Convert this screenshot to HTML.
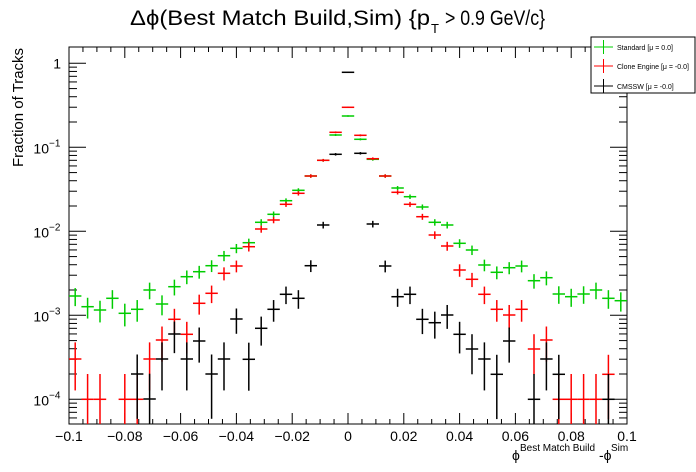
<!DOCTYPE html>
<html><head><meta charset="utf-8"><style>
body{margin:0;background:#fff;}
svg{display:block;font-family:"Liberation Sans",sans-serif;}
</style></head><body>
<svg id="s" width="696" height="472" xmlns="http://www.w3.org/2000/svg">
<rect width="696" height="472" fill="#fff"/>
<text x="130" y="25" font-size="21" textLength="300" lengthAdjust="spacingAndGlyphs">Δϕ(Best Match Build,Sim) {p</text>
<text x="431" y="33" font-size="13">T</text>
<text x="445" y="25" font-size="21" textLength="100" lengthAdjust="spacingAndGlyphs">&gt; 0.9 GeV/c}</text>
<text transform="translate(23,167) rotate(-90)" font-size="15" textLength="119" lengthAdjust="spacingAndGlyphs">Fraction of Tracks</text>
<g id="g"></g>
<rect x="591" y="37" width="104" height="56" fill="#fff" stroke="#000" stroke-width="1"/>
<line x1="594" y1="47" x2="613" y2="47" stroke="#00cc00"/><line x1="603.5" y1="40" x2="603.5" y2="54" stroke="#00cc00"/>
<text x="617" y="50" font-size="7">Standard  [μ = 0.0]</text>
<line x1="594" y1="66" x2="613" y2="66" stroke="#ff0000"/><line x1="603.5" y1="59" x2="603.5" y2="73" stroke="#ff0000"/>
<text x="617" y="69" font-size="7">Clone Engine  [μ = -0.0]</text>
<line x1="594" y1="86" x2="613" y2="86" stroke="#000"/><line x1="603.5" y1="79" x2="603.5" y2="93" stroke="#000"/>
<text x="617" y="89" font-size="7">CMSSW  [μ = -0.0]</text>
<text x="512" y="460" font-size="14">ϕ</text>
<text x="520" y="451" font-size="10">Best Match Build</text>
<text x="599" y="460" font-size="14">-ϕ</text>
<text x="611" y="451" font-size="10">Sim</text>
</svg>
<script>
const g=document.getElementById('g');
const L=69,R=627,T=47,B=424,y0=63.3,dec=84,bw=(R-L)/45;
const NS='http://www.w3.org/2000/svg';
function el(t,a){const e=document.createElementNS(NS,t);for(const k in a)e.setAttribute(k,a[k]);g.appendChild(e);return e;}
function yv(v){return y0-dec*Math.log10(v);}
function ln(x1,y1,x2,y2,c,w){el('line',{x1,y1,x2,y2,stroke:c||'#000','stroke-width':w||1});}
// frame
el('rect',{x:L,y:T,width:R-L,height:B-T,fill:'none',stroke:'#000','stroke-width':1});
// x ticks
for(let i=0;i<=40;i++){const x=L+(R-L)*i/40;const big=i%4==0;const h=big?11:5;
 ln(x,B,x,B-h);ln(x,T,x,T+h);}
const xl=['\u22120.1','\u22120.08','\u22120.06','\u22120.04','\u22120.02','0','0.02','0.04','0.06','0.08','0.1'];
xl.forEach((t,i)=>{const e=el('text',{x:L+(R-L)*i/10,y:441,'font-size':14,'text-anchor':'middle'});e.textContent=t;});
// y ticks
for(let d=-5;d<=0;d++){for(let m=1;m<10;m++){const v=m*Math.pow(10,d);const y=yv(v);if(y<T||y>B)continue;const h=m==1?17:8;
 ln(L,y,L+h,y);ln(R,y,R-h,y);}}
const yl=[[0,'1'],[-1,'10'],[-2,'10'],[-3,'10'],[-4,'10']];
yl.forEach(([d,t])=>{const y=yv(Math.pow(10,d));
 if(d==0){const e=el('text',{x:61,y:y+5,'font-size':14,'text-anchor':'end'});e.textContent='1';}
 else{const e=el('text',{x:49,y:y+6,'font-size':14,'text-anchor':'end'});e.textContent='10';
 const s=el('text',{x:49,y:y-1,'font-size':10});s.textContent='\u2212'+(-d);}});
// data (pixel y), null = none
const green=[296,306.7,310,298.3,313.3,309.3,290,304,286.7,276.7,271.7,265.7,255.7,248.3,242.7,222.3,214.3,200.7,190.3,176,160.3,135,116,139.3,159.3,176,188,196.7,207,222.3,225,243.3,250,265,272.3,267.7,266,280.7,277.7,294,296.7,294,290,298.3,300.7];
const red=[359,399.3,399.3,null,399.3,399.3,359,340,319.3,334.3,303.3,293.3,273.3,266,246.7,229,220,204.3,193.3,176,160.3,132.3,107.3,135.3,158.7,176,192.3,204.3,216.7,235,246,270,279.3,294.3,309.3,315,309.3,349,340,399.3,399.3,399.3,399.3,374.3,null];
const black=[null,null,null,null,null,374,399,359,334,359,341,374,359,319,359.3,328.3,309.3,294.3,298.3,265.7,225,154.3,72.3,153.3,224,266,296.7,294.3,319.3,322.7,315,334.3,349,359,374.3,341,null,399.3,359,374.3,null,null,null,399.3,null];
function draw(d,c){d.forEach((py,i)=>{if(py==null)return;const v=Math.pow(10,(y0-py)/dec);const N=Math.max(1,Math.round(v/1e-4));
 const err=Math.sqrt(N)*1e-4*(v/(N*1e-4));const x=L+bw*(i+0.5);
 const yt=yv(v+err);const lo=v-err;let yb=lo>5e-5?yv(lo):B;yb=Math.min(yb,B);const yp=Math.min(py,B);
 if(py<B){ln(L+bw*i,py,L+bw*(i+1),py,c,1.5);}
 ln(x,Math.max(yt,T),x,yb,c,1.5);});}
draw(green,'#00cc00');draw(red,'#ff0000');draw(black,'#000');
</script>
</body></html>
